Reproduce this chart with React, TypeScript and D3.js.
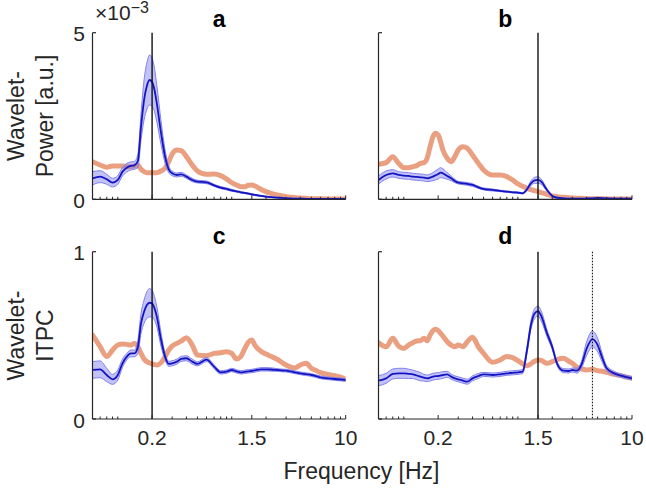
import React from "react";
import * as d3 from "d3";

const FREQ = [
  0.06, 0.07, 0.08, 0.09, 0.1, 0.11, 0.12, 0.13, 0.14, 0.15,
  0.16, 0.17, 0.18, 0.19, 0.2, 0.21, 0.22, 0.24, 0.26, 0.28,
  0.3, 0.33, 0.36, 0.4, 0.45, 0.5, 0.6, 0.7, 0.8, 0.9,
  1.0, 1.1, 1.2, 1.3, 1.4, 1.5, 1.6, 1.8, 2.0, 2.2,
  2.5, 2.8, 3.0, 3.3, 3.6, 4.0, 4.5, 5.0, 5.5, 6,
  7, 8, 9, 10,
];

const X_TICKS = [0.2, 1.5, 10];
const X_TICK_LABELS = ["0.2", "1.5", "10"];
const MINOR_TICKS = [0.07, 0.08, 0.09, 0.1, 0.3, 0.4, 0.5, 0.6, 0.7, 0.8, 0.9, 1, 2, 3, 4, 5, 6, 7, 8, 9];

// Panel a: wavelet power (x1e-3)
const A_ORANGE = [
  1.13, 1.03, 0.96, 1.0, 1.0, 1.0, 0.98, 0.98, 1.0, 1.03,
  0.9, 0.83, 0.8, 0.8, 0.8, 0.8, 0.8, 0.85, 0.93, 1.13,
  1.36, 1.48, 1.46, 1.28, 1.03, 0.85, 0.75, 0.76, 0.71, 0.61,
  0.5, 0.43, 0.38, 0.38, 0.42, 0.43, 0.4, 0.3, 0.23, 0.18,
  0.13, 0.1, 0.08, 0.06, 0.05, 0.04, 0.03, 0.02, 0.02, 0.015,
  0.01, 0.01, 0.01, 0.01,
];
const A_BLUE = [
  0.63, 0.68, 0.6, 0.5, 0.58, 0.83, 0.95, 1.0, 1.02, 1.15,
  2.18, 2.98, 3.4, 3.58, 3.52, 3.28, 2.88, 1.98, 1.28, 0.9,
  0.78, 0.73, 0.75, 0.68, 0.58, 0.53, 0.51, 0.42, 0.35, 0.31,
  0.27, 0.24, 0.21, 0.19, 0.17, 0.15, 0.13, 0.1, 0.08, 0.065,
  0.05, 0.04, 0.03, 0.025, 0.02, 0.02, 0.015, 0.015, 0.012, 0.012,
  0.01, 0.01, 0.01, 0.01,
];
const A_SEM = [
  0.2, 0.18, 0.15, 0.13, 0.13, 0.13, 0.13, 0.12, 0.12, 0.2,
  0.4, 0.6, 0.7, 0.75, 0.72, 0.65, 0.55, 0.35, 0.2, 0.1,
  0.07, 0.06, 0.06, 0.05, 0.05, 0.04, 0.04, 0.03, 0.03, 0.03,
  0.03, 0.02, 0.02, 0.02, 0.02, 0.02, 0.02, 0.015, 0.015, 0.01,
  0.01, 0.01, 0.01, 0.01, 0.01, 0.01, 0.01, 0.01, 0.01, 0.01,
  0.01, 0.01, 0.01, 0.01,
];

// Panel b: wavelet power (x1e-3)
const B_ORANGE = [
  1.05, 1.1, 1.28, 1.08, 0.95, 0.95, 0.98, 1.01, 1.08, 1.1,
  1.23, 1.58, 1.88, 1.98, 1.93, 1.73, 1.48, 1.23, 1.13, 1.28,
  1.48, 1.58, 1.53, 1.33, 1.08, 0.88, 0.73, 0.73, 0.68, 0.58,
  0.46, 0.39, 0.33, 0.29, 0.26, 0.23, 0.2, 0.15, 0.1, 0.08,
  0.06, 0.05, 0.04, 0.03, 0.03, 0.02, 0.02, 0.02, 0.015, 0.01,
  0.01, 0.01, 0.01, 0.01,
];
const B_BLUE = [
  0.58, 0.73, 0.78, 0.73, 0.71, 0.7, 0.68, 0.67, 0.66, 0.65,
  0.63, 0.65, 0.68, 0.72, 0.76, 0.8, 0.78, 0.7, 0.63, 0.55,
  0.5, 0.48, 0.46, 0.43, 0.36, 0.31, 0.28, 0.25, 0.23, 0.21,
  0.2, 0.18, 0.3, 0.48, 0.57, 0.58, 0.53, 0.28, 0.1, 0.05,
  0.03, 0.02, 0.02, 0.02, 0.02, 0.025, 0.03, 0.04, 0.035, 0.025,
  0.02, 0.02, 0.02, 0.02,
];
const B_SEM = [
  0.12, 0.12, 0.11, 0.1, 0.1, 0.1, 0.1, 0.1, 0.1, 0.1,
  0.1, 0.11, 0.12, 0.14, 0.15, 0.15, 0.14, 0.1, 0.07, 0.05,
  0.04, 0.04, 0.04, 0.04, 0.03, 0.03, 0.03, 0.02, 0.02, 0.02,
  0.02, 0.02, 0.04, 0.07, 0.09, 0.1, 0.08, 0.04, 0.02, 0.02,
  0.01, 0.01, 0.01, 0.01, 0.01, 0.01, 0.01, 0.01, 0.01, 0.01,
  0.01, 0.01, 0.01, 0.01,
];

// Panel c: wavelet ITPC
const C_ORANGE = [
  0.502, 0.432, 0.373, 0.412, 0.442, 0.448, 0.446, 0.442, 0.452, 0.432,
  0.392, 0.359, 0.343, 0.335, 0.329, 0.325, 0.323, 0.337, 0.373, 0.412,
  0.436, 0.452, 0.465, 0.486, 0.442, 0.382, 0.378, 0.392, 0.396, 0.402,
  0.392, 0.359, 0.373, 0.42, 0.46, 0.472, 0.44, 0.405, 0.388, 0.375,
  0.357, 0.335, 0.323, 0.31, 0.305, 0.323, 0.333, 0.303, 0.29, 0.277,
  0.267, 0.259, 0.25, 0.237,
];
const C_BLUE = [
  0.293, 0.297, 0.263, 0.237, 0.263, 0.333, 0.373, 0.392, 0.392, 0.43,
  0.572, 0.641, 0.681, 0.695, 0.691, 0.661, 0.612, 0.472, 0.373, 0.33,
  0.333, 0.343, 0.359, 0.363, 0.343, 0.33, 0.355, 0.313, 0.279, 0.283,
  0.293, 0.285, 0.279, 0.282, 0.285, 0.287, 0.29, 0.297, 0.297, 0.296,
  0.293, 0.29, 0.289, 0.284, 0.279, 0.273, 0.268, 0.263, 0.256, 0.249,
  0.243, 0.239, 0.236, 0.233,
];
const C_SEM = [
  0.05, 0.05, 0.04, 0.03, 0.03, 0.025, 0.02, 0.02, 0.02, 0.04,
  0.06, 0.07, 0.08, 0.085, 0.08, 0.07, 0.06, 0.04, 0.02, 0.015,
  0.015, 0.015, 0.015, 0.015, 0.015, 0.012, 0.012, 0.012, 0.01, 0.01,
  0.01, 0.01, 0.01, 0.01, 0.01, 0.01, 0.01, 0.01, 0.01, 0.01,
  0.008, 0.008, 0.008, 0.008, 0.008, 0.008, 0.008, 0.008, 0.008, 0.008,
  0.008, 0.008, 0.008, 0.008,
];

// Panel d: wavelet ITPC
const D_ORANGE = [
  0.456, 0.432, 0.482, 0.436, 0.422, 0.442, 0.456, 0.466, 0.468, 0.482,
  0.468, 0.502, 0.528, 0.536, 0.528, 0.512, 0.496, 0.462, 0.442, 0.432,
  0.442, 0.432, 0.462, 0.488, 0.432, 0.392, 0.339, 0.353, 0.373, 0.367,
  0.349, 0.33, 0.319, 0.33, 0.345, 0.353, 0.35, 0.333, 0.343, 0.355,
  0.363, 0.345, 0.333, 0.31, 0.3, 0.293, 0.297, 0.289, 0.285, 0.279,
  0.267, 0.259, 0.25, 0.243,
];
const D_BLUE = [
  0.229, 0.243, 0.269, 0.273, 0.273, 0.27, 0.267, 0.26, 0.253, 0.247,
  0.243, 0.247, 0.253, 0.256, 0.257, 0.26, 0.263, 0.267, 0.253, 0.243,
  0.237, 0.229, 0.223, 0.243, 0.257, 0.267, 0.263, 0.267, 0.273, 0.276,
  0.279, 0.283, 0.41, 0.56, 0.63, 0.645, 0.616, 0.512, 0.43, 0.333,
  0.289, 0.287, 0.293, 0.289, 0.323, 0.42, 0.478, 0.442, 0.363, 0.303,
  0.273, 0.259, 0.25, 0.243,
];
const D_SEM = [
  0.03, 0.03, 0.03, 0.03, 0.03, 0.028, 0.025, 0.025, 0.025, 0.02,
  0.02, 0.02, 0.02, 0.02, 0.02, 0.02, 0.02, 0.018, 0.015, 0.015,
  0.015, 0.015, 0.015, 0.015, 0.015, 0.012, 0.012, 0.012, 0.012, 0.012,
  0.012, 0.012, 0.02, 0.025, 0.03, 0.03, 0.03, 0.02, 0.015, 0.012,
  0.012, 0.012, 0.012, 0.015, 0.02, 0.04, 0.048, 0.04, 0.025, 0.015,
  0.012, 0.01, 0.01, 0.01,
];

const FONT = "'Liberation Sans', Arial, Helvetica, sans-serif";
const TXT = "#262626";
const ORANGE = "#EA9F80";
const BLUE = "#1414C4";
const BAND_FILL = "rgba(110,110,235,0.42)";
const BAND_EDGE = "#8282EA";

type PanelSpec = {
  title: string;
  x0: number;
  x1: number;
  top: number;
  bottom: number;
  yMax: number;
  orange: number[];
  blue: number[];
  sem: number[];
  vline: number;
  dotted?: number;
  yLabels?: string[];
  xLabels: boolean;
  titleY: number;
};

const PANELS: PanelSpec[] = [
  { title: "a", x0: 92.5, x1: 345.7, top: 32.7, bottom: 199.3, yMax: 5, orange: A_ORANGE, blue: A_BLUE, sem: A_SEM, vline: 0.2, yLabels: ["0", "5"], xLabels: false, titleY: 27 },
  { title: "b", x0: 378.5, x1: 632, top: 32.7, bottom: 199.3, yMax: 5, orange: B_ORANGE, blue: B_BLUE, sem: B_SEM, vline: 1.5, xLabels: false, titleY: 27 },
  { title: "c", x0: 92.5, x1: 345.7, top: 251.7, bottom: 419, yMax: 1, orange: C_ORANGE, blue: C_BLUE, sem: C_SEM, vline: 0.2, yLabels: ["0", "1"], xLabels: true, titleY: 244 },
  { title: "d", x0: 378.5, x1: 632, top: 251.7, bottom: 419, yMax: 1, orange: D_ORANGE, blue: D_BLUE, sem: D_SEM, vline: 1.5, dotted: 4.5, xLabels: true, titleY: 244 },
];

function Panel({ p }: { p: PanelSpec }) {
  const x = d3.scaleLog().domain([0.06, 10]).range([p.x0, p.x1]);
  const y = d3.scaleLinear().domain([0, p.yMax]).range([p.bottom, p.top]);
  const idx = FREQ.map((_, i) => i);
  const line = (vals: number[]) =>
    d3.line<number>().x((i) => x(FREQ[i])).y((i) => y(vals[i])).curve(d3.curveMonotoneX)(idx) || "";
  const upper = p.blue.map((v, i) => v + p.sem[i]);
  const lower = p.blue.map((v, i) => Math.max(0, v - p.sem[i]));
  const area =
    d3
      .area<number>()
      .x((i) => x(FREQ[i]))
      .y0((i) => y(lower[i]))
      .y1((i) => y(upper[i]))
      .curve(d3.curveMonotoneX)(idx) || "";
  const cx = (p.x0 + p.x1) / 2;
  const clipId = "clip-" + p.title;
  return (
    <g>
      <defs>
        <clipPath id={clipId}>
          <rect x={p.x0} y={p.top - 2} width={p.x1 - p.x0} height={p.bottom - p.top + 2} />
        </clipPath>
      </defs>
      <g clipPath={`url(#${clipId})`}>
        <path d={line(p.orange)} fill="none" stroke={ORANGE} strokeWidth={5} strokeLinejoin="round" strokeLinecap="round" />
        <path d={area} fill={BAND_FILL} stroke="none" />
        <path d={line(upper)} fill="none" stroke={BAND_EDGE} strokeWidth={1} />
        <path d={line(lower)} fill="none" stroke={BAND_EDGE} strokeWidth={1} />
        <path d={line(p.blue)} fill="none" stroke={BLUE} strokeWidth={1.8} />
      </g>
      <line x1={x(p.vline)} x2={x(p.vline)} y1={p.top} y2={p.bottom} stroke="#111" strokeWidth={1.4} />
      {p.dotted !== undefined && (
        <line x1={x(p.dotted)} x2={x(p.dotted)} y1={p.top} y2={p.bottom} stroke="#111" strokeWidth={1.1} strokeDasharray="1.5,1.5" />
      )}
      {/* axes */}
      <line x1={p.x0} x2={p.x1} y1={p.bottom} y2={p.bottom} stroke={TXT} strokeWidth={1.2} />
      <line x1={p.x0} x2={p.x0} y1={p.top} y2={p.bottom} stroke={TXT} strokeWidth={1.2} />
      {[0, p.yMax].map((v) => (
        <line key={"yt" + v} x1={p.x0} x2={p.x0 + 3.5} y1={y(v)} y2={y(v)} stroke={TXT} strokeWidth={1.2} />
      ))}
      {X_TICKS.map((t) => (
        <line key={"xt" + t} x1={x(t)} x2={x(t)} y1={p.bottom} y2={p.bottom - 4} stroke={TXT} strokeWidth={1} />
      ))}
      {MINOR_TICKS.map((t) => (
        <line key={"mt" + t} x1={x(t)} x2={x(t)} y1={p.bottom} y2={p.bottom - 2.5} stroke={TXT} strokeWidth={1} />
      ))}
      {p.xLabels &&
        X_TICKS.map((t, i) => (
          <text key={"xl" + t} x={x(t)} y={p.bottom + 26} textAnchor="middle" fontSize={21} fill={TXT} fontFamily={FONT}>
            {X_TICK_LABELS[i]}
          </text>
        ))}
      {p.yLabels &&
        [0, p.yMax].map((v, i) => (
          <text key={"yl" + v} x={p.x0 - 7.5} y={y(v) + 1} textAnchor="end" dominantBaseline="central" fontSize={21} fill={TXT} fontFamily={FONT}>
            {p.yLabels![i]}
          </text>
        ))}
      <text x={cx} y={p.titleY} textAnchor="middle" fontSize={23} fontWeight="bold" fill="#000" fontFamily={FONT}>
        {p.title}
      </text>
    </g>
  );
}

export default function App() {
  return (
    <svg width={646} height={495} style={{ position: "absolute", left: 0, top: 0, background: "#fff" }}>
      <rect width={646} height={495} fill="#fff" />
      {PANELS.map((p) => (
        <Panel key={p.title} p={p} />
      ))}
      <text x={95} y={20} fontSize={21} fill={TXT} fontFamily={FONT}>
        ×10
        <tspan dy={-7} fontSize={16}>−3</tspan>
      </text>
      <g fontFamily={FONT} fontSize={23} fill={TXT} textAnchor="middle">
        <text transform="translate(23.5,116) rotate(-90)">Wavelet-</text>
        <text transform="translate(53,116) rotate(-90)">Power [a.u.]</text>
        <text transform="translate(23.5,335.5) rotate(-90)">Wavelet-</text>
        <text transform="translate(53,335.5) rotate(-90)">ITPC</text>
        <text x={361.5} y={479}>Frequency [Hz]</text>
      </g>
    </svg>
  );
}
